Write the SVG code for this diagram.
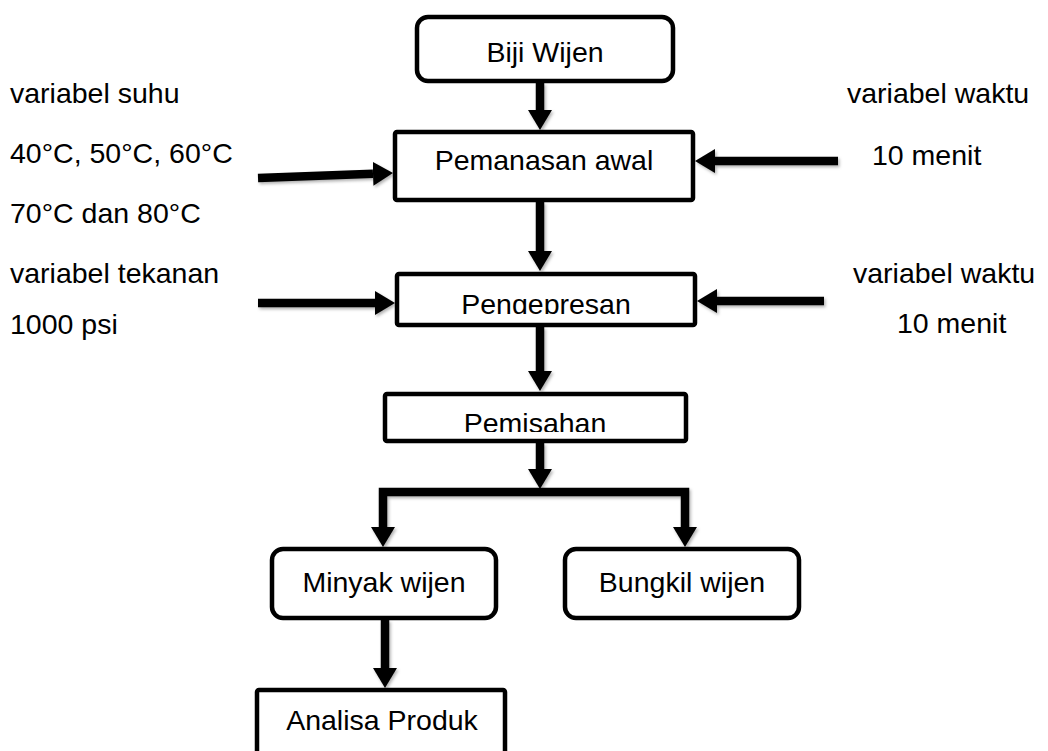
<svg xmlns="http://www.w3.org/2000/svg" width="1048" height="751" viewBox="0 0 1048 751">
<style>
text{font-family:"Liberation Sans",Arial,sans-serif;font-size:28.5px;fill:#000}
.c{text-anchor:middle}
.box{fill:#fff;stroke:#000;stroke-width:4.5}
.conn{fill:none;stroke:#000;stroke-width:8.5;stroke-linejoin:miter}
</style>
<defs>
<marker id="ah" markerUnits="userSpaceOnUse" markerWidth="20" markerHeight="24" refX="0" refY="12" orient="auto">
<path d="M0,0 L20,12 L0,24 z" fill="#000"/>
</marker>
<filter id="sh" x="-20%" y="-20%" width="140%" height="140%">
<feDropShadow dx="1.5" dy="2" stdDeviation="1.5" flood-color="#000" flood-opacity="0.3"/>
</filter>
<clipPath id="clipPeng"><rect x="397" y="274" width="298" height="40"/></clipPath>
<clipPath id="clipPemi"><rect x="385" y="394" width="301" height="38"/></clipPath>
</defs>
<rect width="1048" height="751" fill="#fff"/>

<g id="connectors" filter="url(#sh)">
<line class="conn" x1="540" y1="83" x2="540" y2="110" marker-end="url(#ah)"/>
<line class="conn" x1="540" y1="202" x2="540" y2="251" marker-end="url(#ah)"/>
<line class="conn" x1="540" y1="327" x2="540" y2="371" marker-end="url(#ah)"/>
<line class="conn" x1="540" y1="443" x2="540" y2="469" marker-end="url(#ah)"/>
<path class="conn" d="M540,492 H383 V527" marker-end="url(#ah)"/>
<path class="conn" d="M540,492 H685 V527" marker-end="url(#ah)"/>
<line class="conn" x1="385" y1="620" x2="385" y2="668" marker-end="url(#ah)"/>
<line class="conn" x1="258" y1="178" x2="373" y2="173.7" marker-end="url(#ah)"/>
<line class="conn" x1="838" y1="161" x2="715" y2="161" marker-end="url(#ah)"/>
<line class="conn" x1="258" y1="303" x2="375" y2="303" marker-end="url(#ah)"/>
<line class="conn" x1="824" y1="301" x2="717" y2="301" marker-end="url(#ah)"/>
</g>

<g id="biji-wijen">
<rect class="box" x="417" y="17" width="256" height="64" rx="11"/>
<text class="c" x="545" y="62">Biji Wijen</text>
</g>
<g id="pemanasan-awal">
<rect class="box" x="395" y="132" width="298" height="68" rx="2"/>
<text class="c" x="544" y="170">Pemanasan awal</text>
</g>
<g id="pengepresan">
<rect class="box" x="397" y="274" width="298" height="51" rx="2"/>
<text class="c" x="546" y="314" clip-path="url(#clipPeng)">Pengepresan</text>
</g>
<g id="pemisahan">
<rect class="box" x="385" y="394" width="301" height="47" rx="2"/>
<text class="c" x="535" y="433" clip-path="url(#clipPemi)">Pemisahan</text>
</g>
<g id="minyak-wijen">
<rect class="box" x="272" y="549" width="224" height="69" rx="11"/>
<text class="c" x="384" y="592">Minyak wijen</text>
</g>
<g id="bungkil-wijen">
<rect class="box" x="565" y="549" width="234" height="69" rx="11"/>
<text class="c" x="682" y="592">Bungkil wijen</text>
</g>
<g id="analisa-produk">
<rect class="box" x="257" y="690" width="248" height="90" rx="2"/>
<text class="c" x="382" y="730">Analisa Produk</text>
</g>

<g id="labels">
<text x="10" y="103">variabel suhu</text>
<text x="10" y="163">40°C, 50°C, 60°C</text>
<text x="10" y="223">70°C dan 80°C</text>
<text x="10" y="283">variabel tekanan</text>
<text x="10" y="334">1000 psi</text>
<text x="847" y="103">variabel waktu</text>
<text x="872" y="165">10 menit</text>
<text x="853" y="283">variabel waktu</text>
<text x="897" y="333">10 menit</text>
</g>
</svg>
